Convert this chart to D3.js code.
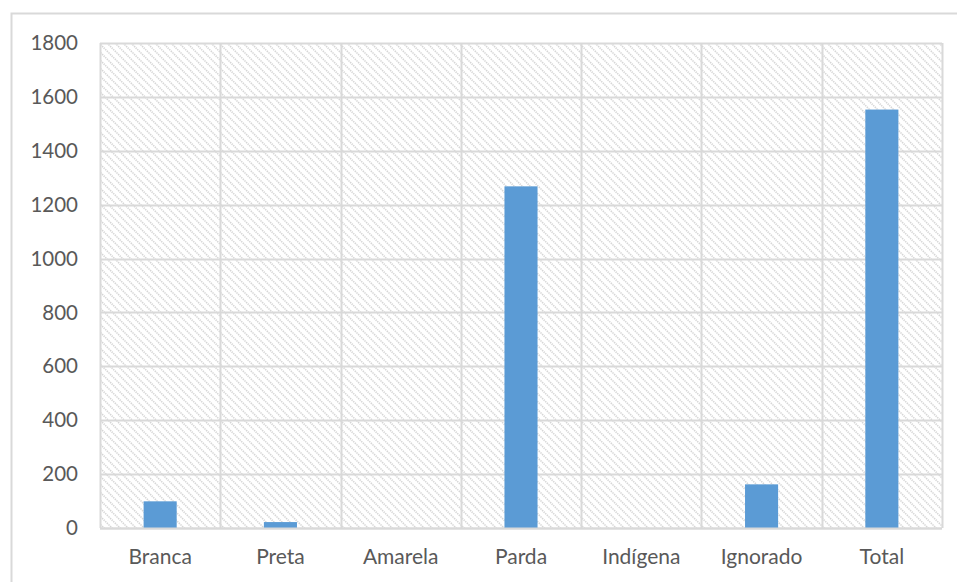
<!DOCTYPE html>
<html>
<head>
<meta charset="utf-8">
<script src="https://cdn.jsdelivr.net/npm/d3@7"></script>
<style>
  html, body { margin: 0; padding: 0; background: #fff; }
  svg { display: block; }
</style>
</head>
<body>
<svg id="chart" width="957" height="582"></svg>
<script>
// Cases by race/colour
const categories = ["Branca", "Preta", "Amarela", "Parda", "Indígena", "Ignorado", "Total"];
const values = [99, 22, 0, 1268, 0, 162, 1553];
const yTicks = [0, 200, 400, 600, 800, 1000, 1200, 1400, 1600, 1800];

const svg = d3.select("#chart");
const W = 957, H = 582;
const plot = { left: 100, right: 942, top: 43, bottom: 528 };

// Chart area frame
svg.append("rect")
  .attr("x", 11.5).attr("y", 13.5)
  .attr("width", W).attr("height", H)
  .attr("fill", "#fff")
  .attr("stroke", "#d9d9d9").attr("stroke-width", 2);

// Diagonal hatch fill for the plot area
const defs = svg.append("defs");
const pat = defs.append("pattern")
  .attr("id", "hatch")
  .attr("patternUnits", "userSpaceOnUse")
  .attr("width", 8).attr("height", 8);
pat.append("rect").attr("width", 8).attr("height", 8).attr("fill", "#fff");
pat.append("path")
  .attr("d", "M-2,-2 L10,10 M-2,6 L2,10 M6,-2 L10,2")
  .attr("stroke", "#d6d6d6").attr("stroke-width", 1.6)
  .attr("stroke-dasharray", "1.4,0.9");

const x = d3.scaleBand()
  .domain(categories)
  .range([plot.left, plot.right])
  .paddingInner(0).paddingOuter(0);

const y = d3.scaleLinear()
  .domain([0, 1800])
  .range([plot.bottom, plot.top]);

svg.append("rect")
  .attr("x", plot.left).attr("y", plot.top)
  .attr("width", plot.right - plot.left)
  .attr("height", plot.bottom - plot.top)
  .attr("fill", "url(#hatch)");

// Horizontal gridlines
svg.append("g")
  .selectAll("line")
  .data(yTicks)
  .join("line")
  .attr("x1", plot.left).attr("x2", plot.right)
  .attr("y1", d => Math.round(y(d)) + 0.5)
  .attr("y2", d => Math.round(y(d)) + 0.5)
  .attr("stroke", "#d9d9d9").attr("stroke-width", 2);

// Vertical gridlines at category boundaries
const bounds = categories.map(c => x(c)).concat([plot.right]);
svg.append("g")
  .selectAll("line")
  .data(bounds)
  .join("line")
  .attr("x1", d => Math.round(d) + 0.5).attr("x2", d => Math.round(d) + 0.5)
  .attr("y1", plot.top).attr("y2", plot.bottom)
  .attr("stroke", "#d9d9d9").attr("stroke-width", 2);

// Bars
const barW = x.bandwidth() * 0.275;
svg.append("g")
  .selectAll("rect")
  .data(categories.map((c, i) => ({ c, v: values[i] })))
  .join("rect")
  .attr("x", d => x(d.c) + x.bandwidth() / 2 - barW / 2)
  .attr("width", barW)
  .attr("y", d => y(d.v))
  .attr("height", d => y(0) - y(d.v))
  .attr("fill", "#5b9bd5");

// Baseline
svg.append("line")
  .attr("x1", plot.left).attr("x2", plot.right)
  .attr("y1", plot.bottom + 0.5).attr("y2", plot.bottom + 0.5)
  .attr("stroke", "#d9d9d9").attr("stroke-width", 2);

const font = "Lato, 'Open Sans', sans-serif";

// Y axis labels
const yAxis = d3.axisLeft(y).tickValues(yTicks).tickFormat(d3.format("d"))
  .tickSize(0).tickPadding(22);
const gy = svg.append("g")
  .attr("transform", `translate(${plot.left},0)`)
  .call(yAxis);
gy.select(".domain").remove();
gy.selectAll("text")
  .attr("font-family", font).attr("font-size", 20.5)
  .attr("fill", "#595959");

// X axis labels
const xAxis = d3.axisBottom(x).tickSize(0).tickPadding(21);
const gx = svg.append("g")
  .attr("transform", `translate(0,${plot.bottom})`)
  .call(xAxis);
gx.select(".domain").remove();
gx.selectAll("text")
  .attr("font-family", font).attr("font-size", 21)
  .attr("fill", "#595959");
</script>
</body>
</html>
